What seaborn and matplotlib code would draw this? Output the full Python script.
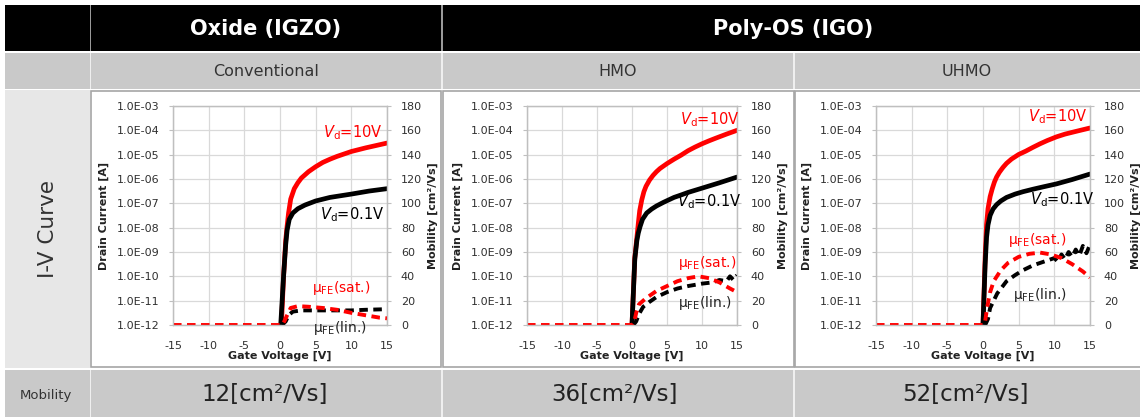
import matplotlib
matplotlib.use("Agg")
import matplotlib.pyplot as plt
from matplotlib.patches import Rectangle
import seaborn as sns

sns.set_style("white")
plt.rcParams['font.family'] = ['DejaVu Sans']
plt.rcParams['mathtext.fontset'] = 'dejavusans'

# ---------------- data ----------------
group_labels = ["Oxide (IGZO)", "Poly-OS (IGO)"]
panel_labels = ["Conventional", "HMO", "UHMO"]
row_labels = ["I-V Curve", "Mobility"]
mobility_values = ["12[cm²/Vs]", "36[cm²/Vs]", "52[cm²/Vs]"]

x_ticks = [-15, -10, -5, 0, 5, 10, 15]
id_ticks = [1e-12, 1e-11, 1e-10, 1e-9, 1e-8, 1e-7, 1e-6, 1e-5, 1e-4, 1e-3]
id_tick_labels = ["1.0E-12", "1.0E-11", "1.0E-10", "1.0E-09", "1.0E-08",
                  "1.0E-07", "1.0E-06", "1.0E-05", "1.0E-04", "1.0E-03"]
mu_ticks = [0, 20, 40, 60, 80, 100, 120, 140, 160, 180]

# Panel 1 : Conventional
p1_vg_10v = [0.2, 0.5, 0.8, 1.0, 1.2, 1.5, 2.0, 2.5, 3.0, 4.0, 5.0, 6.0, 7.0, 8.0, 10.0, 12.0, 15.0]
p1_id_10v = [1e-12, 1e-10, 3e-9, 1.2e-8, 4e-8, 1.5e-7, 4e-7, 7e-7, 1.1e-6, 2e-6, 3.2e-6,
             4.8e-6, 6.5e-6, 8.5e-6, 1.35e-5, 1.9e-5, 3e-5]
p1_vg_01v = [0.1, 0.5, 0.8, 1.0, 1.3, 1.8, 2.5, 3.5, 5.0, 7.0, 10.0, 12.5, 15.0]
p1_id_01v = [1e-12, 1e-10, 2e-9, 8e-9, 2.2e-8, 4e-8, 6e-8, 8.5e-8, 1.25e-7, 1.75e-7,
             2.4e-7, 3.2e-7, 4e-7]
p1_vg_sat = [-15, 0.3, 0.6, 1.0, 1.5, 2.5, 4.0, 6.0, 8.0, 10.0, 12.0, 14.0, 15.0]
p1_mu_sat = [0, 0, 3, 8, 14, 15.5, 15, 14, 12.5, 10, 8, 6, 5.5]
p1_vg_lin = [0.3, 0.8, 1.2, 1.8, 3.0, 5.0, 8.0, 10.0, 12.0, 15.0]
p1_mu_lin = [0, 3, 8, 11, 12, 12, 12, 12, 12.5, 13]

# Panel 2 : HMO
p2_vg_10v = [0.0, 0.4, 0.7, 0.9, 1.1, 1.4, 1.7, 2.0, 2.5, 3.0, 3.5, 4.0, 5.0, 6.0, 7.0,
             8.0, 9.0, 10.0, 11.0, 12.0, 13.5, 15.0]
p2_id_10v = [1e-12, 6e-10, 4e-9, 1.5e-8, 5e-8, 1.4e-7, 3e-7, 5e-7, 9e-7, 1.4e-6, 2e-6,
             2.7e-6, 4.3e-6, 6.5e-6, 9.5e-6, 1.45e-5, 2.05e-5, 2.8e-5, 3.7e-5, 4.8e-5,
             7e-5, 1e-4]
p2_vg_01v = [0.0, 0.4, 0.7, 0.9, 1.15, 1.5, 2.1, 2.8, 3.5, 4.5, 6.0, 7.0, 8.0, 10.0, 12.5, 15.0]
p2_id_01v = [1e-12, 5e-10, 3e-9, 6e-9, 1.1e-8, 2.2e-8, 4e-8, 5.8e-8, 7.8e-8, 1.1e-7,
             1.75e-7, 2.2e-7, 2.8e-7, 4.2e-7, 7e-7, 1.2e-6]
p2_vg_sat = [-15, 0.0, 0.3, 0.6, 1.0, 2.0, 3.5, 5.0, 6.5, 8.0, 9.5, 11.0, 12.5, 14.0, 15.0]
p2_mu_sat = [0, 0, 2, 10, 17, 22, 28, 32, 36, 38.5, 40, 38.5, 35, 30, 27]
p2_vg_lin = [0.2, 0.6, 1.0, 1.6, 2.5, 3.5, 5.0, 6.5, 8.0, 10.0, 11.5, 12.5, 13.5, 14.0, 14.5, 15.0]
p2_mu_lin = [0, 3, 9, 15, 19, 23, 27, 30, 32, 34, 35, 37, 36, 40, 37, 41]

# Panel 3 : UHMO
p3_vg_10v = [0.0, 0.3, 0.5, 0.7, 1.0, 1.3, 1.6, 1.9, 2.3, 2.8, 3.3, 4.0, 5.0, 6.0, 7.0,
             8.0, 9.0, 10.3, 11.5, 13.0, 15.0]
p3_id_10v = [1e-12, 6e-10, 1.4e-8, 6e-8, 1.9e-7, 4e-7, 7.5e-7, 1.2e-6, 1.9e-6, 3e-6,
             4.4e-6, 6.6e-6, 1.02e-5, 1.4e-5, 2e-5, 2.8e-5, 3.8e-5, 5.4e-5, 7e-5, 9e-5, 1.25e-4]
p3_vg_01v = [0.0, 0.3, 0.5, 0.7, 1.0, 1.4, 1.9, 2.5, 3.3, 4.5, 5.6, 7.0, 8.5, 10.3, 12.5, 15.0]
p3_id_01v = [1e-12, 3e-10, 4e-9, 1.3e-8, 3.2e-8, 5.8e-8, 8.8e-8, 1.25e-7, 1.75e-7, 2.4e-7,
             3e-7, 3.8e-7, 4.8e-7, 6.3e-7, 9.5e-7, 1.6e-6]
p3_vg_sat = [-15, 0.0, 0.3, 0.6, 1.0, 1.5, 2.5, 3.5, 5.0, 6.5, 8.0, 9.5, 11.0, 12.5, 14.0, 15.0]
p3_mu_sat = [0, 0, 3, 15, 27, 36, 45, 51, 56, 58.5, 59.5, 58, 55, 50, 44, 39]
p3_vg_lin = [0.3, 0.7, 1.0, 1.5, 2.0, 3.3, 4.5, 5.6, 7.0, 8.0, 9.0, 10.0, 10.5, 11.0,
             11.5, 12.0, 12.5, 13.0, 13.5, 14.0, 14.5, 15.0]
p3_mu_lin = [0, 5, 14, 20, 26, 36, 41, 45, 49, 51, 53, 55, 52, 58, 54, 60, 56, 62, 57, 65, 59, 66]

panels = [
    (p1_vg_10v, p1_id_10v, p1_vg_01v, p1_id_01v, p1_vg_sat, p1_mu_sat, p1_vg_lin, p1_mu_lin),
    (p2_vg_10v, p2_id_10v, p2_vg_01v, p2_id_01v, p2_vg_sat, p2_mu_sat, p2_vg_lin, p2_mu_lin),
    (p3_vg_10v, p3_id_10v, p3_vg_01v, p3_id_01v, p3_vg_sat, p3_mu_sat, p3_vg_lin, p3_mu_lin),
]

# ---------------- layout ----------------
W, H = 1140, 417
fig = plt.figure(figsize=(W / 100, H / 100), dpi=100)
fig.patch.set_facecolor("white")


def fx(x):
    return x / W


def fy(y):
    return 1 - y / H


def rect(x0, y0, x1, y1, fc, ec="none", lw=0):
    fig.add_artist(Rectangle((fx(x0), fy(y1)), fx(x1) - fx(x0), (y1 - y0) / H,
                             transform=fig.transFigure, facecolor=fc,
                             edgecolor=ec, linewidth=lw, zorder=0))


GRAY = "#c9c9c9"
# header row
rect(5, 5, 1140, 50.5, "black")
for sx in (89.5, 441):
    rect(sx, 5, sx + 1.6, 50.5, "#9a9a9a")
# sub-header row
rect(5, 53.5, 1140, 88.5, GRAY)
for sx in (89.5, 441, 793):
    rect(sx, 53.5, sx + 1.6, 88.5, "#efefef")
# plot row
rect(5, 90, 89.5, 367.5, "#e7e7e7")
for (cx0, cx1) in ((90.5, 441.5), (442.5, 793.5), (794.5, 1141)):
    rect(cx0, 90.5, cx1, 367, "white", ec="#a6a6a6", lw=1.2)
# mobility row
rect(5, 369.5, 1140, 418, GRAY)
for sx in (89.5, 441, 793):
    rect(sx, 369.5, sx + 1.6, 418, "#efefef")

fig.text(fx(266), fy(29), group_labels[0], color="white", fontsize=15,
         fontweight="bold", ha="center", va="center")
fig.text(fx(793), fy(29), group_labels[1], color="white", fontsize=15,
         fontweight="bold", ha="center", va="center")
for cx, lab in zip((266, 618, 967), panel_labels):
    fig.text(fx(cx), fy(72), lab, color="#333333", fontsize=11.5,
             ha="center", va="center")
fig.text(fx(48), fy(229), row_labels[0], color="#333333", fontsize=15.5,
         rotation=90, ha="center", va="center")
fig.text(fx(46), fy(395), row_labels[1], color="#333333", fontsize=9.5,
         ha="center", va="center")
for cx, lab in zip((265, 615, 965), mobility_values):
    fig.text(fx(cx), fy(395), lab, color="#222222", fontsize=16.5,
             ha="center", va="center")

axes_px = [(173, 387), (527, 737), (876, 1090)]
ax_top, ax_bot = 106, 325

ann = [
    # (10V label), (0.1V), (sat), (lin) : left edge x, centre y in pixels
    [(323, 133), (320, 215), (312, 288), (313, 328)],
    [(680, 120), (677, 202), (678, 263), (678, 303)],
    [(1028, 117), (1030, 200), (1008, 240), (1013, 295)],
]

RED = "#ff0000"
DASH = (0, (2.2, 1.4))
for i, (x0, x1) in enumerate(axes_px):
    vg10, id10, vg01, id01, vgs, mus, vgl, mul = panels[i]
    ax = fig.add_axes([fx(x0), fy(ax_bot), (x1 - x0) / W, (ax_bot - ax_top) / H])
    ax.set_yscale("log")
    sns.lineplot(x=vg10, y=id10, ax=ax, color=RED, linewidth=3.4,
                 sort=False, estimator=None)
    sns.lineplot(x=vg01, y=id01, ax=ax, color="black", linewidth=3.4,
                 sort=False, estimator=None)
    ax.set_xlim(-15, 15)
    ax.set_ylim(1e-12, 1e-3)
    ax.set_xticks(x_ticks)
    ax.set_xticklabels([str(t) for t in x_ticks])
    ax.set_yticks(id_ticks)
    ax.set_yticklabels(id_tick_labels)
    ax.minorticks_off()
    ax.grid(True, color="#d9d9d9", linewidth=0.9)
    ax.set_axisbelow(True)
    for sp in ax.spines.values():
        sp.set_color("#bfbfbf")
        sp.set_linewidth(0.9)
    ax.tick_params(axis="y", which="major", direction="out", length=3,
                   width=0.8, color="#bfbfbf", pad=7, labelsize=8,
                   labelcolor="#303030")
    ax.tick_params(axis="x", which="major", direction="inout", length=5,
                   width=0.8, color="#bfbfbf", pad=9, labelsize=8,
                   labelcolor="#303030")
    ax.set_xlabel("Gate Voltage [V]", fontsize=8, fontweight="bold",
                  labelpad=0, color="#222222")
    ax.set_ylabel("Drain Current [A]", fontsize=8, fontweight="bold",
                  labelpad=5, color="#222222")

    ax2 = ax.twinx()
    sns.lineplot(x=vgl, y=mul, ax=ax2, color="black", linewidth=2.8,
                 linestyle=DASH, sort=False, estimator=None)
    sns.lineplot(x=vgs, y=mus, ax=ax2, color=RED, linewidth=2.8,
                 linestyle=DASH, sort=False, estimator=None)
    ax2.set_ylim(0, 180)
    ax2.set_xlim(-15, 15)
    ax2.set_yticks(mu_ticks)
    ax2.set_yticklabels([str(t) for t in mu_ticks])
    ax2.grid(False)
    for sp in ax2.spines.values():
        sp.set_color("#bfbfbf")
        sp.set_linewidth(0.9)
    ax2.tick_params(axis="y", direction="out", length=3, width=0.8,
                    color="#bfbfbf", pad=7, labelsize=8, labelcolor="#303030")
    ax2.set_ylabel("Mobility [cm²/Vs]", fontsize=8, fontweight="bold",
                   labelpad=4, color="#222222")

    (a10, a01, asat, alin) = ann[i]
    fig.text(fx(a10[0]), fy(a10[1]), r"$V_{\mathregular{d}}$=10V", color=RED,
             fontsize=10.5, ha="left", va="center")
    fig.text(fx(a01[0]), fy(a01[1]), r"$V_{\mathregular{d}}$=0.1V", color="black",
             fontsize=10.5, ha="left", va="center")
    fig.text(fx(asat[0]), fy(asat[1]), r"μ$_{\mathregular{FE}}$(sat.)", color=RED,
             fontsize=10, ha="left", va="center")
    fig.text(fx(alin[0]), fy(alin[1]), r"μ$_{\mathregular{FE}}$(lin.)", color="#222222",
             fontsize=10, ha="left", va="center")

fig.savefig("out.png", dpi=100, facecolor="white")
